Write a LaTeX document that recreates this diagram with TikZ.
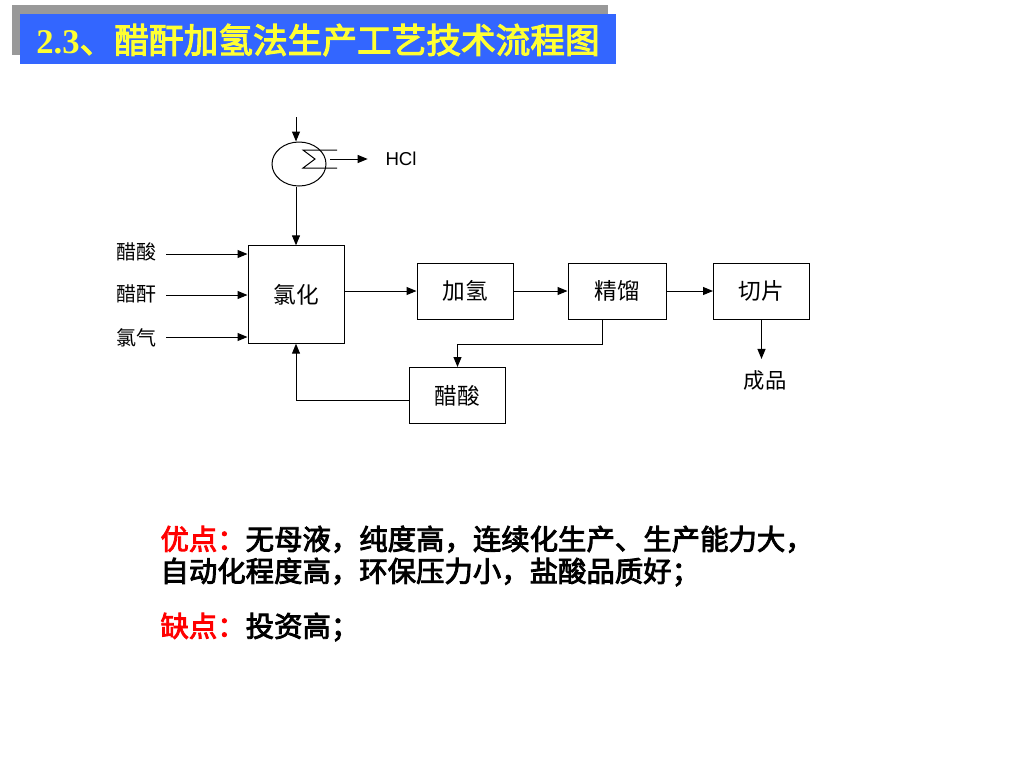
\documentclass[tikz,border=0pt]{standalone}
\usepackage{fontspec}
\setmainfont{Liberation Serif}
\newfontfamily\cjk{Noto Sans CJK SC}
\newfontfamily\cjkb{Noto Sans CJK SC}[FakeBold=3]
\newfontfamily\hclfont{Liberation Sans}
\usetikzlibrary{shapes.geometric,arrows.meta,positioning,calc}
\definecolor{titleblue}{RGB}{51,102,255}
\definecolor{titlegray}{RGB}{153,153,153}
\definecolor{titleyellow}{RGB}{255,255,51}

\begin{document}
\begin{tikzpicture}[x=0.75pt,y=-0.75pt, line width=0.75pt,
    unit/.style={draw, minimum width=72pt, minimum height=42pt, inner sep=0pt, font=\cjk\fontsize{17}{17}\selectfont},
    feed/.style={inner sep=0pt, font=\cjk\fontsize{15}{15}\selectfont},
    arr/.style={-{Triangle[length=7.5pt,width=6pt]}}]
    \useasboundingbox (0,0) rectangle (1024,768);
    % title bar
    \fill[titlegray] (12,5) rectangle (608,55);
    \fill[titleblue] (20,14) rectangle (616,64);
    \node[text=titleyellow, inner sep=0pt] (title) at (318,40)
        {\fontsize{26}{26}\selectfont\bfseries 2.3{\cjkb\mdseries 、醋酐加氢法生产工艺技术流程图}};

    % units
    \node[unit, minimum height=73pt] (chl) at (296,294.5) {氯化};
    \node[unit] (hyd) at (465,291) {加氢};
    \node[unit, minimum width=73.5pt] (dist) at (617,291) {精馏};
    \node[unit] (cut) at (761.5,291) {切片};
    \node[unit] (acid) at (457.5,395.5) {醋酸};

    % condenser
    \node[draw, ellipse, minimum width=40.5pt, minimum height=33pt, inner sep=0pt] (cond) at (299,164) {};
    \draw (337,150) -- (303,150) -- (315,159) -- (303,168) -- (337,168);
    \coordinate (top) at (296,117);
    \coordinate (hclout) at (330,159);
    \node[font=\hclfont\fontsize{14}{14}\selectfont, anchor=west, inner sep=0pt] (hcl) at (385,159) {HCl};
    \draw[arr] (top) -- (top |- cond.north);
    \draw[arr] (hclout) -- ([xshift=-13pt]hcl.west);
    \draw[arr] (top |- cond.south) -- (top |- chl.north);

    % feeds
    \node[feed, anchor=east] (f1) at (157,252) {醋酸};
    \node[feed, anchor=east] (f2) at (157,294) {醋酐};
    \node[feed, anchor=east] (f3) at (157,338) {氯气};
    \foreach \f/\y in {f1/254, f2/295, f3/337}
        \draw[arr, shorten <=7pt] (f2.east |- 0,\y) -- (chl.west |- 0,\y);

    % main line
    \draw[arr] (chl.east |- hyd.west) -- (hyd.west);
    \draw[arr] (hyd) -- (dist);
    \draw[arr] (dist) -- (cut);
    \node[feed, font=\cjk\fontsize{16}{16}\selectfont] (prod) at (765,380) {成品};
    \draw[arr] (cut.south) -- ([yshift=8pt]cut.south |- prod.north);

    % recycle
    \draw[arr] ([xshift=-11pt]dist.south) -- ++(0,25) -| (acid.north);
    \draw[arr] (acid.west |- 0,400) -| (chl.south);

    % notes
    \node[anchor=west, align=left, inner sep=0pt, font=\cjkb\fontsize{21.3}{24}\selectfont] (adv) at (160,556)
        {\textcolor{red}{优点：}无母液，纯度高，连续化生产、生产能力大，\\自动化程度高，环保压力小，盐酸品质好；};
    \node[anchor=west, inner sep=0pt, font=\cjkb\fontsize{21.3}{24}\selectfont] (dis) at (160,627)
        {\textcolor{red}{缺点：}投资高；};
\end{tikzpicture}
\end{document}
